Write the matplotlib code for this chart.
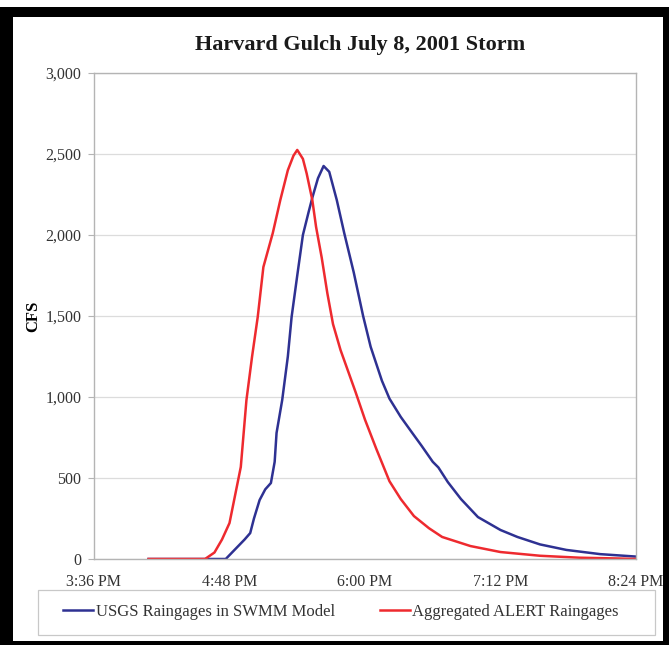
"""
plot.py - Harvard Gulch July 8, 2001 storm hydrographs (SWMM, two rain inputs).

Saves out.png (669x645).
"""
import matplotlib
matplotlib.use("Agg")
import matplotlib.pyplot as plt
import matplotlib.dates as mdates
from matplotlib.patches import Rectangle
from matplotlib.ticker import FuncFormatter, MultipleLocator
import pandas as pd

DAY = "2001-07-08 "

# USGS raingages in SWMM model (blue)
usgs_times = ["16:05", "16:46", "16:51", "16:56", "16:59", "17:01", "17:04", "17:07",
              "17:10", "17:12", "17:13", "17:16", "17:19", "17:21", "17:24", "17:27",
              "17:30", "17:32", "17:35", "17:38", "17:41", "17:45", "17:49", "17:54",
              "17:59", "18:03", "18:09", "18:13", "18:19", "18:25", "18:30", "18:36",
              "18:39", "18:44", "18:51", "19:00", "19:12", "19:21", "19:33", "19:47",
              "20:05", "20:24"]
usgs_cfs = [0, 0, 60, 120, 160, 250, 364, 430,
            469, 600, 778, 981, 1250, 1494, 1750, 2000,
            2140, 2230, 2350, 2426, 2390, 2216, 2010, 1770,
            1500, 1310, 1100, 990, 877, 780, 700, 600,
            565, 475, 370, 259, 179, 136, 90, 56,
            30, 15]

# Aggregated ALERT raingages (red)
alert_times = ["16:05", "16:35", "16:40", "16:44", "16:48", "16:54", "16:57", "17:00",
               "17:03", "17:06", "17:11", "17:15", "17:19", "17:22", "17:24", "17:27",
               "17:29", "17:32", "17:34", "17:37", "17:40", "17:43", "17:47", "17:55",
               "18:00", "18:06", "18:13", "18:19", "18:26", "18:34", "18:41", "18:56",
               "19:12", "19:33", "19:54", "20:15", "20:24"]
alert_cfs = [0, 0, 40, 120, 222, 568, 981, 1250,
             1494, 1802, 2012, 2216, 2400, 2490, 2525, 2470,
             2380, 2216, 2050, 1860, 1640, 1450, 1290, 1030,
             860, 680, 480, 370, 265, 190, 136, 80,
             43, 20, 8, 3, 0]

x_start, x_end = "15:36", "20:24"
title = "Harvard Gulch July 8, 2001 Storm"
labels = ["USGS Raingages in SWMM Model", "Aggregated ALERT Raingages"]

W, H = 669, 645
SERIF = ["Liberation Serif", "DejaVu Serif"]


def to_dt(times):
    return pd.to_datetime([DAY + t for t in times])


def fmt_time(x, pos):
    d = mdates.num2date(x)
    return d.strftime("%I:%M %p").lstrip("0")


def main():
    plt.rcParams["font.family"] = SERIF
    fig = plt.figure(figsize=(W / 100, H / 100), dpi=100)

    # black picture frame
    fig.patches.append(Rectangle((0, 0), 1, (H - 7) / H, transform=fig.transFigure,
                                 facecolor="black", edgecolor="none", zorder=0))
    fig.patches.append(Rectangle((13 / W, 4 / H), (663 - 13) / W, (H - 17 - 4) / H,
                                 transform=fig.transFigure, facecolor="white",
                                 edgecolor="none", zorder=0))

    ax = fig.add_axes([94 / W, 1 - 559 / H, (636 - 94) / W, (559 - 73) / H])
    ax.set_zorder(3)
    ax.set_facecolor("white")

    ax.plot(to_dt(usgs_times), usgs_cfs, color="#2e3192", lw=1.8, label=labels[0])
    ax.plot(to_dt(alert_times), alert_cfs, color="#ee2a2f", lw=1.8, label=labels[1])

    ax.set_xlim(pd.Timestamp(DAY + x_start), pd.Timestamp(DAY + x_end))
    ax.set_ylim(0, 3000)
    ticks = pd.date_range(DAY + x_start, DAY + x_end, freq="72min")
    ax.set_xticks(ticks)
    ax.xaxis.set_major_formatter(FuncFormatter(fmt_time))
    ax.yaxis.set_major_locator(MultipleLocator(500))
    ax.yaxis.set_major_formatter(FuncFormatter(lambda v, p: f"{v:,.0f}"))

    ax.grid(axis="y", color="#dcdcdc", lw=0.9)
    ax.set_axisbelow(True)
    for s in ax.spines.values():
        s.set_color("#b4b4b4")
        s.set_linewidth(1.0)
    ax.tick_params(axis="y", length=4, color="#b4b4b4", labelsize=11.5,
                   labelcolor="#333333", pad=5)
    ax.tick_params(axis="x", length=0, labelsize=11.5, labelcolor="#333333", pad=11)

    ax.set_ylabel("CFS", fontsize=12, fontweight="bold", labelpad=3)
    fig.text(360 / W, 1 - 45 / H, title, ha="center", va="center",
             fontsize=16, fontweight="bold", color="#1a1a1a")

    # legend box
    fig.patches.append(Rectangle((38 / W, 1 - 635 / H), (655 - 38) / W, 45 / H,
                                 transform=fig.transFigure, facecolor="white",
                                 edgecolor="#c8c8c8", lw=0.9, zorder=1))
    leg = fig.legend(loc="center", bbox_to_anchor=(341 / W, 1 - 612 / H), ncol=2,
                     frameon=False, fontsize=12, handlelength=1.8, handletextpad=0.15,
                     columnspacing=2.7)
    leg.set_zorder(4)
    for t in leg.get_texts():
        t.set_color("#333333")

    fig.savefig("out.png", dpi=100)
    plt.close(fig)


if __name__ == "__main__":
    main()
